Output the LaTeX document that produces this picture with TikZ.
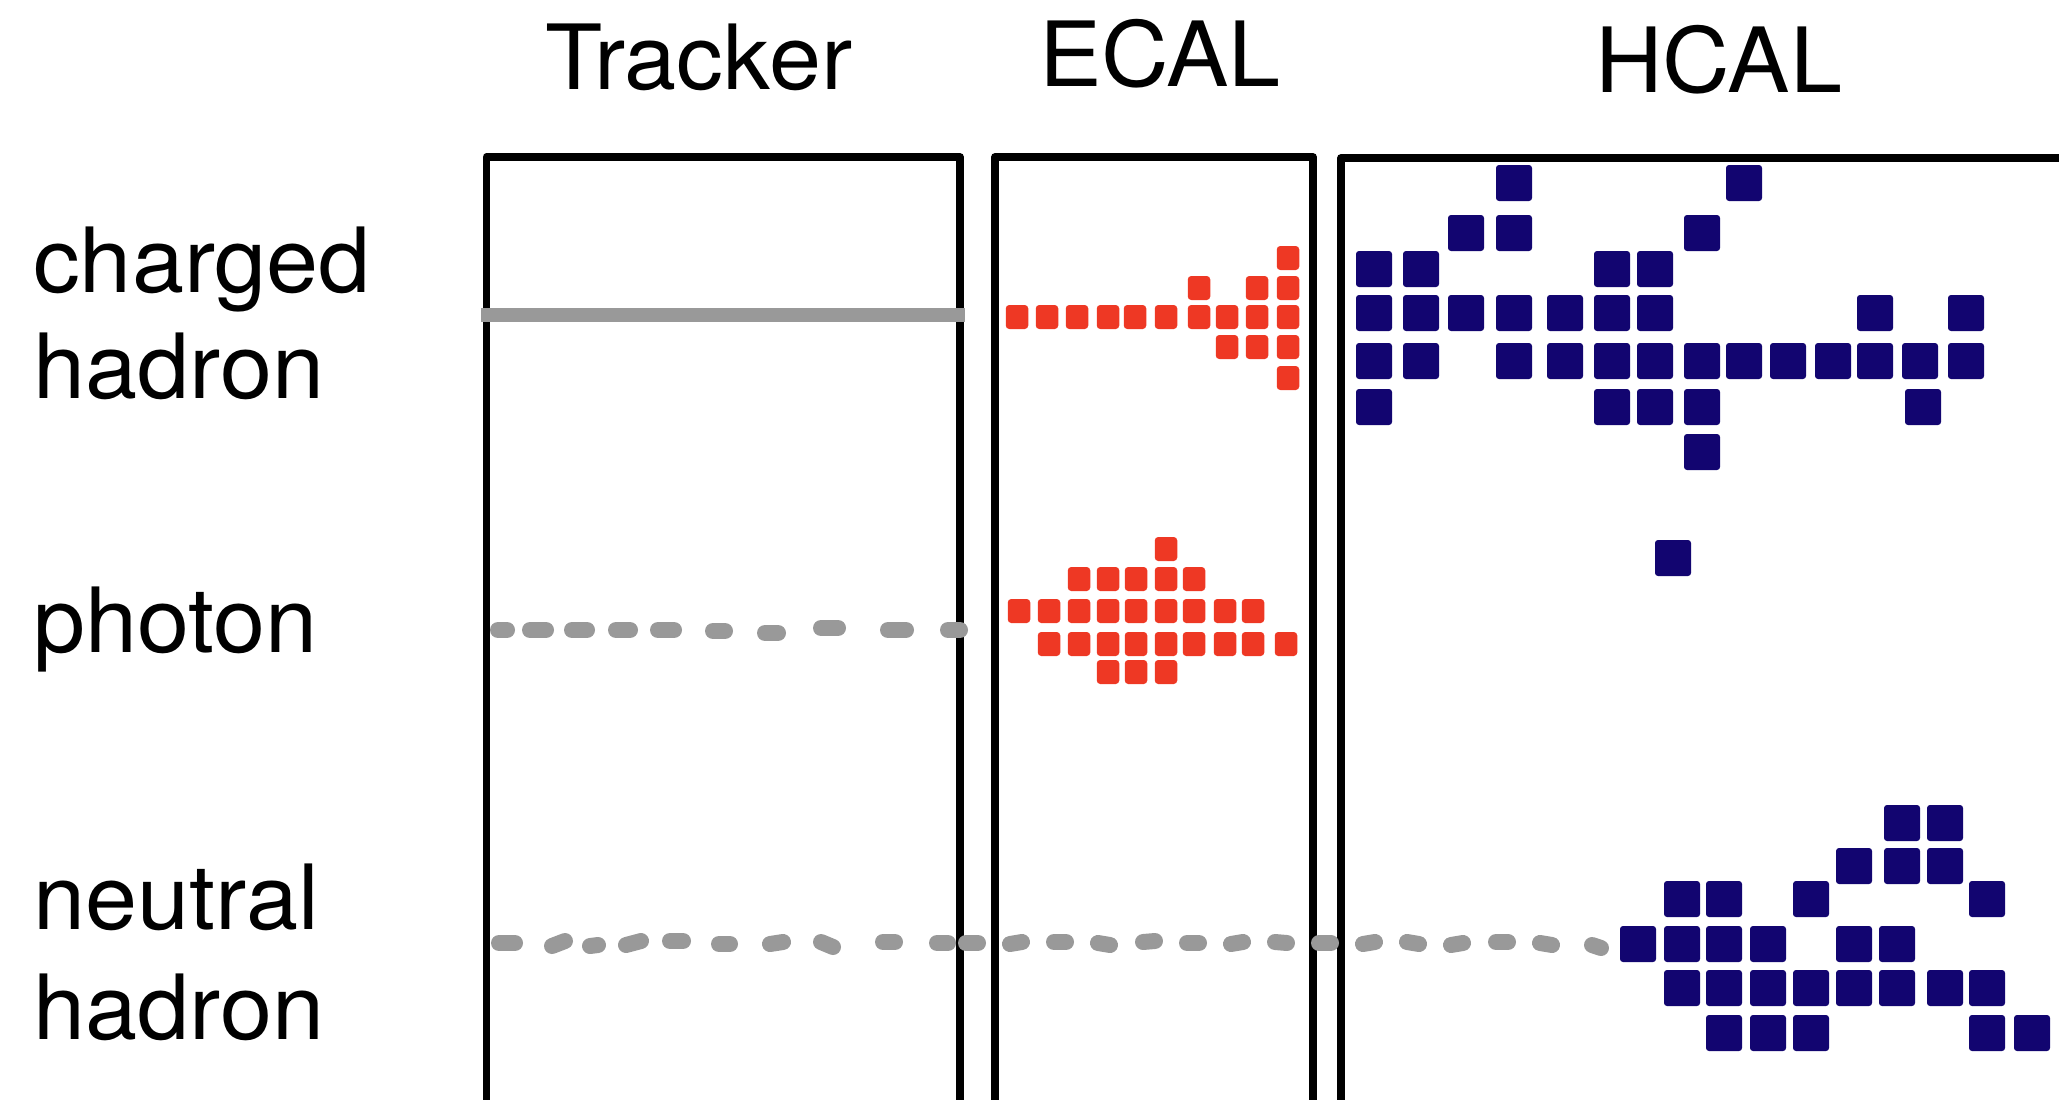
\documentclass[tikz,border=0pt]{standalone}
\usepackage{fontspec}
\setmainfont[FakeStretch=1.04]{TeX Gyre Heros}
\definecolor{ecalred}{RGB}{238,56,36}
\definecolor{hcalblue}{RGB}{18,5,112}
\definecolor{trackgray}{RGB}{153,153,153}
\begin{document}
\begin{tikzpicture}[x=1pt,y=-1pt,
  frame/.style={line width=7.5pt,line join=round,black},
  ecalcell/.style={fill=ecalred,rounded corners=3.5pt},
  hcalcell/.style={fill=hcalblue,rounded corners=3pt},
  trackline/.style={line width=13.5pt,trackgray},
  dashseg/.style={line width=16pt,line cap=round,trackgray},
  label/.style={inner sep=0pt,anchor=base west,align=left,font=\fontsize{90}{106}\selectfont}]
\useasboundingbox (0,0) rectangle (2059,1100);

% detector frames, open at the bottom
\draw[frame] (486.5,1100) -- (486.5,157) -- (960,157) -- (960,1100);
\draw[frame] (995,1100) -- (995,157) -- (1313,157) -- (1313,1100);
\draw[frame] (1341,1100) -- (1341,158) -- (2059,158);

% titles
\node[label] (tracker) at (545,89) {Tracker};
\node[label] (ecal) at (1039,86) {ECAL};
\node[label] (hcal) at (1595,92) {HCAL};

% particle labels (base anchor sits on the last line)
\node[label] (charged) at (33,398) {charged\\hadron};
\node[label] (photon) at (33,652) {photon};
\node[label,font=\fontsize{90}{110}\selectfont] (neutral) at (33,1039) {neutral\\hadron};

% charged hadron: track, ECAL and HCAL deposits
\draw[trackline] (481,315) -- (965,315);
\foreach \x/\y in {1288/258,
  1199/288,1257/288,1288/288,
  1017/317,1047/317,1077/317,1108/317,1135/317,1166/317,1199/317,1227/317,1257/317,1288/317,
  1227/347,1257/347,1288/347,
  1288/378}
  \fill[ecalcell] (\x-11.25,\y-12) rectangle +(22.5,24);
\foreach \x/\y in {1514/183,1744/183,
  1466/233,1514/233,1702/233,
  1374/269,1421/269,1612/269,1655/269,
  1374/313,1421/313,1466/313,1514/313,1565/313,1612/313,1655/313,1875/313,1966/313,
  1374/361,1421/361,1514/361,1565/361,1612/361,1655/361,1702/361,1744/361,1788/361,1833/361,1875/361,1920/361,1966/361,
  1374/407,1612/407,1655/407,1702/407,1923/407,
  1702/452,
  1673/558}
  \fill[hcalcell] (\x-18,\y-18) rectangle +(36,36);

% photon: no track, electromagnetic shower in the ECAL
\foreach \a/\b/\y in {498/507/630,530/546/630,572/587/630,616/630/630,658/674/630,
  713/725/631,765/778/633,821/838/628,888/906/630,948/960/630}
  \draw[dashseg] (\a,\y) -- (\b,\y);
\foreach \x/\y in {1166/549,
  1079/579,1108/579,1136/579,1166/579,1194/579,
  1019/611,1049/611,1079/611,1108/611,1136/611,1166/611,1194/611,1225/611,1253/611,
  1049/644,1079/644,1108/644,1136/644,1166/644,1194/644,1225/644,1253/644,1286/644,
  1108/672,1136/672,1166/672}
  \fill[ecalcell] (\x-11.25,\y-12) rectangle +(22.5,24);

% neutral hadron: no track, no ECAL deposit, hadronic shower in the HCAL
\foreach \a/\b/\ya/\yb in {499/515/943/943,552/565/946/941,590/598/946/945,626/641/945/941,
  670/683/941/941,719/730/944/944,770/783/944/942,821/833/942/947,883/895/942/942,
  937/948/943/943,966/978/943/943,1010/1022/944/942,1054/1066/942/942,1098/1110/943/945,
  1143/1155/942/941,1187/1199/943/943,1231/1243/944/942,1275/1287/942/943,1319/1331/943/943,
  1363/1375/944/942,1407/1419/942/944,1451/1463/945/943,1496/1508/942/942,1540/1552/943/945,
  1592/1601/945/948}
  \draw[dashseg] (\a,\ya) -- (\b,\yb);
\foreach \x/\y in {1902/823,1945/823,
  1854/866,1902/866,1945/866,
  1682/899,1724/899,1811/899,1987/899,
  1638/944,1682/944,1724/944,1768/944,1854/944,1897/944,
  1682/988,1724/988,1768/988,1811/988,1854/988,1897/988,1945/988,1987/988,
  1724/1033,1768/1033,1811/1033,1987/1033,2032/1033}
  \fill[hcalcell] (\x-18,\y-18) rectangle +(36,36);
\end{tikzpicture}
\end{document}
